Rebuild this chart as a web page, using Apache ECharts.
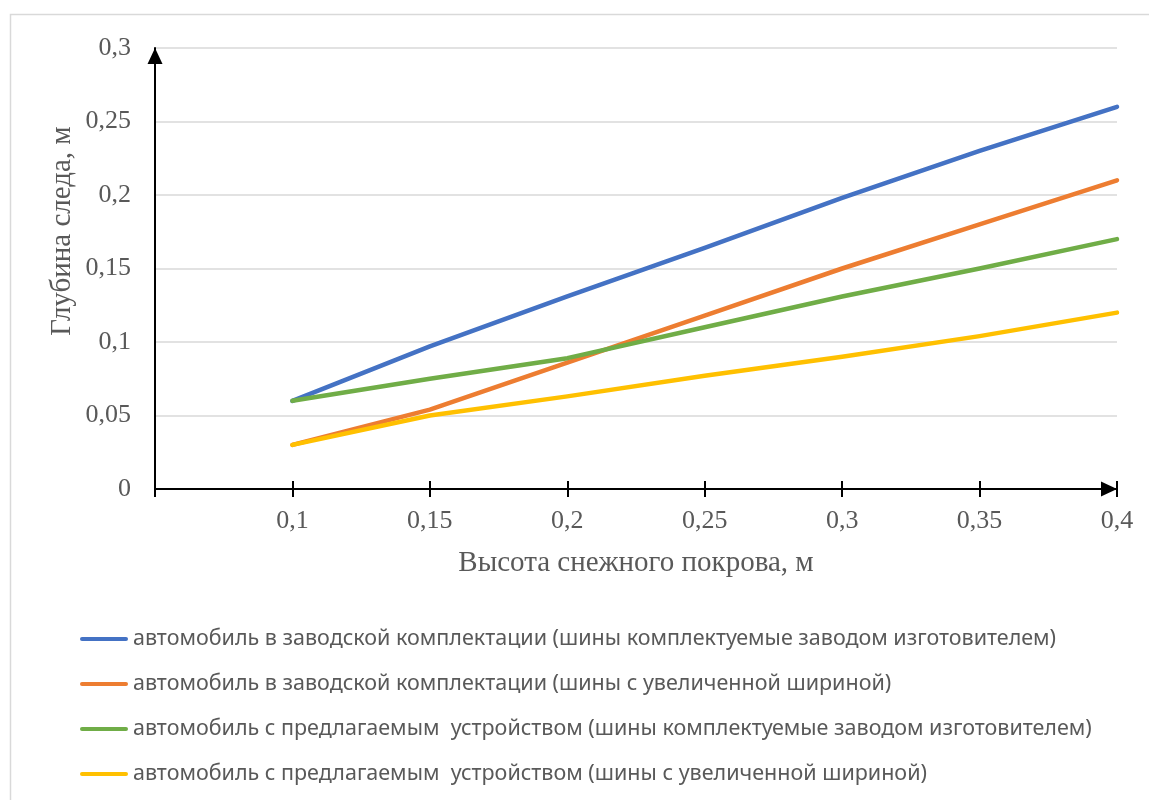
<!DOCTYPE html>
<html>
<head>
<meta charset="utf-8">
<script src="https://cdn.jsdelivr.net/npm/echarts@6/dist/echarts.min.js"></script>
<style>
html,body{margin:0;padding:0;background:#fff;}
#chart{width:1149px;height:800px;}
</style>
</head>
<body>
<div id="chart"></div>
<script>
const xValues = [0.1, 0.15, 0.2, 0.25, 0.3, 0.35, 0.4];
const seriesNames = [
  'автомобиль в заводской комплектации (шины комплектуемые заводом изготовителем)',
  'автомобиль в заводской комплектации (шины с увеличенной шириной)',
  'автомобиль с предлагаемым  устройством (шины комплектуемые заводом изготовителем)',
  'автомобиль с предлагаемым  устройством (шины с увеличенной шириной)'
];
const factoryStdTires = [0.06, 0.097, 0.131, 0.164, 0.198, 0.23, 0.26];
const factoryWideTires = [0.03, 0.054, 0.086, 0.118, 0.15, 0.18, 0.21];
const deviceStdTires = [0.06, 0.075, 0.089, 0.11, 0.131, 0.15, 0.17];
const deviceWideTires = [0.03, 0.05, 0.063, 0.077, 0.09, 0.104, 0.12];
const xTitle = 'Высота снежного покрова, м';
const yTitle = 'Глубина следа, м';

const colors = ['#4472C4', '#ED7D31', '#70AD47', '#FFC000'];
const allData = [factoryStdTires, factoryWideTires, deviceStdTires, deviceWideTires];

function fmt(v) {
  return String(+(+v).toFixed(2)).replace('.', ',');
}

const chart = echarts.init(document.getElementById('chart'), null, {renderer: 'canvas'});
const serif = '"Liberation Serif", "Times New Roman", serif';
const sans = '"Noto Sans", "Open Sans", sans-serif';

chart.setOption({
  animation: false,
  color: colors,
  grid: {left: 155, right: 32, top: 48, bottom: 311, containLabel: false},
  xAxis: [{
    type: 'value', min: 0.05, max: 0.4, interval: 0.05, position: 'bottom',
    axisLine: {show: true, lineStyle: {color: '#000', width: 2}, symbol: ['none', 'triangle'], symbolSize: [15, 16], symbolOffset: [0, -8]},
    axisTick: {show: true, length: 8, inside: false, lineStyle: {color: '#000', width: 2}},
    axisLabel: {margin: 19, fontFamily: serif, fontSize: 26, color: '#595959',
      formatter: v => (v < 0.07 ? '' : fmt(v))},
    splitLine: {show: false}
  }, {
    type: 'value', min: 0.05, max: 0.4, interval: 0.05, position: 'bottom', offset: 0,
    axisLine: {show: false},
    axisTick: {show: true, length: 8, inside: true, lineStyle: {color: '#000', width: 2}},
    axisLabel: {show: false},
    splitLine: {show: false}
  }],
  yAxis: {
    type: 'value', min: 0, max: 0.3, interval: 0.05,
    axisLine: {show: true, lineStyle: {color: '#000', width: 2}, symbol: ['none', 'triangle'], symbolSize: [15, 16], symbolOffset: [0, -8]},
    axisTick: {show: false},
    axisLabel: {margin: 24, fontFamily: serif, fontSize: 26, color: '#595959', formatter: v => fmt(v)},
    splitLine: {show: true, lineStyle: {color: '#d9d9d9', width: 1.5}}
  },
  legend: {
    orient: 'vertical', left: 80, top: 628, padding: 0,
    itemWidth: 48, itemHeight: 10, itemGap: 23,
    data: seriesNames.map((n, i) => ({name: n, icon: 'path://M2,0 L46,0 A2,2 0 0 1 46,4 L2,4 A2,2 0 0 1 2,0 Z'})),
    textStyle: {fontFamily: sans, fontSize: 21.5, color: '#595959'}
  },
  graphic: [
    {type: 'rect', shape: {x: 10.5, y: 14.5, width: 1300, height: 900}, style: {fill: 'none', stroke: '#d9d9d9', lineWidth: 1.5}, silent: true, z: -10},
    {type: 'text', x: 636, y: 563, style: {text: xTitle, font: '29px ' + serif, fill: '#595959', textAlign: 'center', textVerticalAlign: 'middle'}},
    {type: 'text', x: 62, y: 231, rotation: Math.PI / 2, style: {text: yTitle, font: '29px ' + serif, fill: '#595959', textAlign: 'center', textVerticalAlign: 'middle'}}
  ],
  series: allData.map((d, i) => ({
    name: seriesNames[i],
    type: 'line',
    data: xValues.map((x, j) => [x, d[j]]),
    showSymbol: false, symbol: 'none',
    lineStyle: {width: 4.5, color: colors[i], cap: 'round', join: 'round'},
    itemStyle: {color: colors[i]},
    z: 10 + i
  }))
});
</script>
</body>
</html>
